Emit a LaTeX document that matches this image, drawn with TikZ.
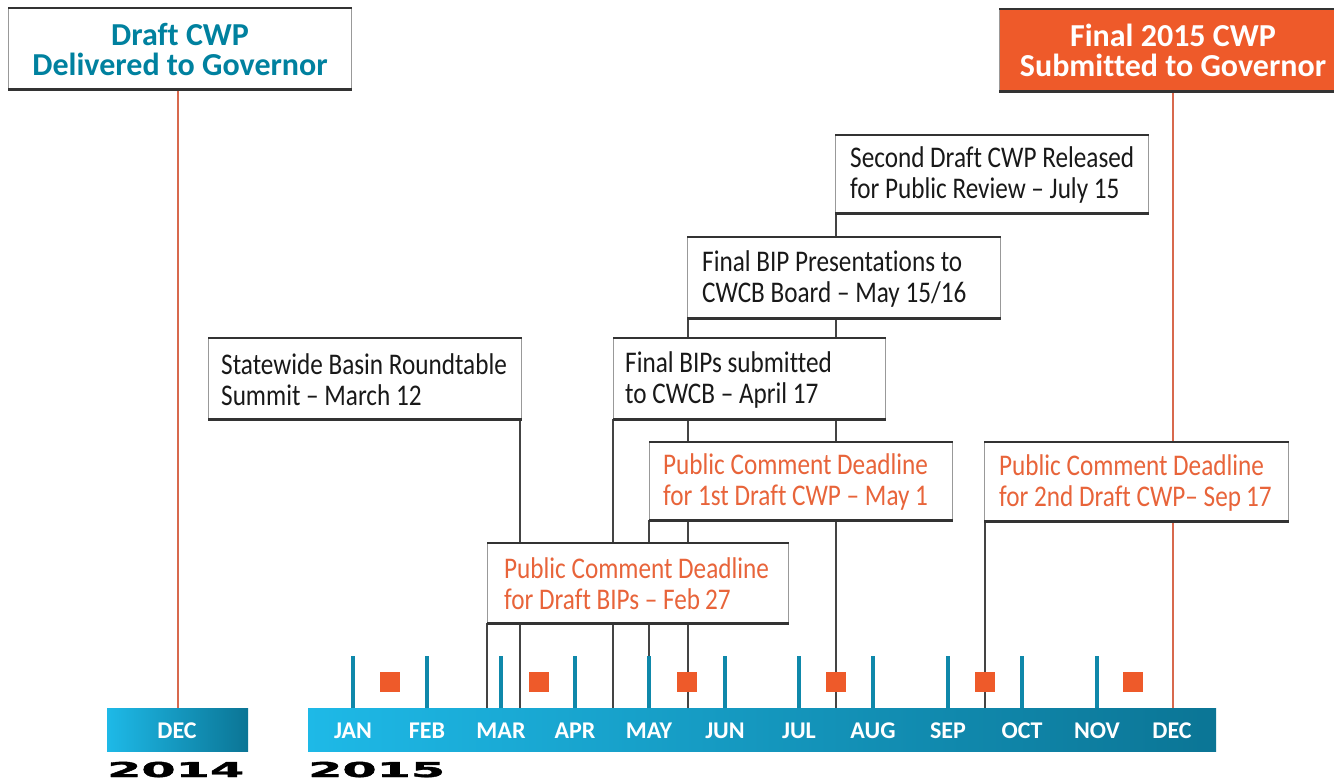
\documentclass[tikz,border=0pt]{standalone}
\usepackage{fontspec}
\setmainfont[Ligatures={TeX,NoCommon}]{Carlito}
\newfontfamily\bodyfont[FakeStretch=0.84,Ligatures={TeX,NoCommon}]{Carlito}
\newfontfamily\yearfont[FakeBold=1.6]{DejaVu Sans Bold}
\usetikzlibrary{calc}
\pgfdeclarelayer{bg}
\pgfsetlayers{bg,main}
\definecolor{tealtxt}{HTML}{00819F}
\definecolor{orfill}{HTML}{EE5A2A}
\definecolor{ortxt}{HTML}{E8643A}
\definecolor{orline}{HTML}{D8694E}
\definecolor{tickc}{HTML}{0F88AA}
\definecolor{barl}{HTML}{1EB9E7}
\definecolor{barr}{HTML}{0B7595}
\definecolor{connc}{HTML}{444444}
\tikzset{
  evbox/.style={draw=black!40, line width=1.2pt, fill=white, anchor=north west, inner sep=0pt},
  evtxt/.style={anchor=west, inner sep=0pt, align=left,
    font=\bodyfont\fontsize{30}{31}\selectfont, text=black!90},
  titlebox/.style={draw=black!40, line width=1.2pt, anchor=north west, inner sep=0pt},
  titletxt/.style={inner sep=0pt, align=center, font=\bfseries\fontsize{32}{30}\selectfont},
  topedge/.style={draw=black!80, line width=2pt},
  botedge/.style={draw=black!80, line width=3pt},
  conn/.style={draw=connc, line width=2pt},
  orconn/.style={draw=orline, line width=2pt},
  monthbar/.style={anchor=north west, inner sep=0pt, minimum height=43pt, left color=barl, right color=barr},
  month/.style={text=white, font=\bfseries\fontsize{24}{24}\selectfont, inner sep=0pt},
  tickline/.style={draw=tickc, line width=3.5pt},
  sq/.style={fill=orfill, minimum size=20pt, inner sep=0pt},
  year/.style={anchor=base west, inner sep=0pt}
}
\begin{document}
\begin{tikzpicture}[x=1pt,y=-1pt]
\useasboundingbox (0,0) rectangle (1334,782);
\begin{pgfonlayer}{bg}
  \fill[white] (0,0) rectangle (1334,782);
\end{pgfonlayer}

% title boxes
\node[titlebox, fill=white, minimum width=343pt, minimum height=80pt] (draft14) at (8,8) {};
\node[titletxt, text=tealtxt] (draft14-t) at ($(draft14.center)+(0,1)$) {Draft CWP\\Delivered to Governor};
\node[titlebox, fill=orfill, minimum width=340pt, minimum height=81pt] (final15) at (999,9) {};
\node[titletxt, text=white] (final15-t) at (1173,50) {Final 2015 CWP\\Submitted to Governor};

% event boxes
\node[evbox, minimum width=313pt, minimum height=77pt] (second) at (835,135) {};
\node[evtxt] (second-t) at ($(second.west)+(15,1)$) {Second Draft CWP Released\\for Public Review – July 15};
\node[evbox, minimum width=313pt, minimum height=80pt] (pres) at (687,237) {};
\node[evtxt] (pres-t) at ($(pres.west)+(15,1)$) {Final BIP Presentations to\\CWCB Board – May 15/16};
\node[evbox, minimum width=272pt, minimum height=80pt] (finbip) at (613,338) {};
\node[evtxt] (finbip-t) at ($(finbip.west)+(12,1)$) {Final BIPs submitted\\to CWCB – April 17};
\node[evbox, minimum width=313pt, minimum height=80pt] (state) at (208,338) {};
\node[evtxt] (state-t) at ($(state.west)+(13,1)$) {Statewide Basin Roundtable\\Summit – March 12};
\node[evbox, minimum width=303pt, minimum height=77pt] (pc1) at (649,442) {};
\node[evtxt, text=ortxt] (pc1-t) at ($(pc1.west)+(14,1)$) {Public Comment Deadline\\for 1st Draft CWP – May 1};
\node[evbox, minimum width=304pt, minimum height=78pt] (pc2) at (984,442) {};
\node[evtxt, text=ortxt] (pc2-t) at ($(pc2.west)+(15,1)$) {Public Comment Deadline\\for 2nd Draft CWP– Sep\,17};
\node[evbox, minimum width=301pt, minimum height=79pt] (pcbip) at (487,543) {};
\node[evtxt, text=ortxt] (pcbip-t) at ($(pcbip.west)+(17,1)$) {Public Comment Deadline\\for Draft BIPs – Feb\,27};

\foreach \n in {draft14,final15,second,pres,finbip,state,pc1,pc2,pcbip}{
  \draw[topedge] (\n.north west) -- (\n.north east);
  \draw[botedge] (\n.south west) -- (\n.south east);
}

% month bars
\node[monthbar, minimum width=141pt] (bar14) at (107,708) {};
\node[monthbar, minimum width=908pt] (bar15) at (308,708) {};

% date coordinates on the bar
\coordinate (dec14) at (178,708);
\coordinate (feb27) at (487,708);
\coordinate (mar12) at (520,708);
\coordinate (apr17) at (613,708);
\coordinate (may1) at (649,708);
\coordinate (may15) at (688,708);
\coordinate (jul15) at (836,708);
\coordinate (sep17) at (985,708);
\coordinate (dec15) at (1173,708);

\begin{pgfonlayer}{bg}
  \draw[orconn] (dec14 |- draft14.south) -- (dec14);
  \draw[orconn] (dec15 |- final15.south) -- (dec15);
  \draw[conn] (feb27 |- pcbip.south) -- (feb27);
  \draw[conn] (mar12 |- state.south) -- (mar12);
  \draw[conn] (apr17 |- finbip.south) -- (apr17);
  \draw[conn] (may1 |- pc1.south) -- (may1);
  \draw[conn] (may15 |- pres.south) -- (may15);
  \draw[conn] (jul15 |- second.south) -- (jul15);
  \draw[conn] (sep17 |- pc2.south) -- (sep17);
\end{pgfonlayer}

% month labels
\node[month] (m-dec14) at (177,731) {DEC};
\foreach \x/\m/\lab in {353/jan/JAN,427/feb/FEB,501/mar/MAR,575/apr/APR,649/may/MAY,725/jun/JUN,799/jul/JUL,873/aug/AUG,948/sep/SEP,1022/oct/OCT,1097/nov/NOV}{
  \node[month] (m-\m) at (\x,731) {\lab};
  \draw[tickline] (m-\m |- bar15.north) -- ++(0,-52);
}
\node[month] (m-dec) at (1172,731) {DEC};

% squares
\foreach \x/\n in {390/1,539/2,687/3,836/4,985/5,1133/6}{
  \node[sq] (sq\n) at (\x,682) {};
}

% years
\node[year] (y14) at (107,777) {\scalebox{2.4}[1]{\yearfont\fontsize{20.5}{20}\selectfont 2014}};
\node[year] (y15) at (308,777) {\scalebox{2.4}[1]{\yearfont\fontsize{20.5}{20}\selectfont 2015}};
\end{tikzpicture}
\end{document}
